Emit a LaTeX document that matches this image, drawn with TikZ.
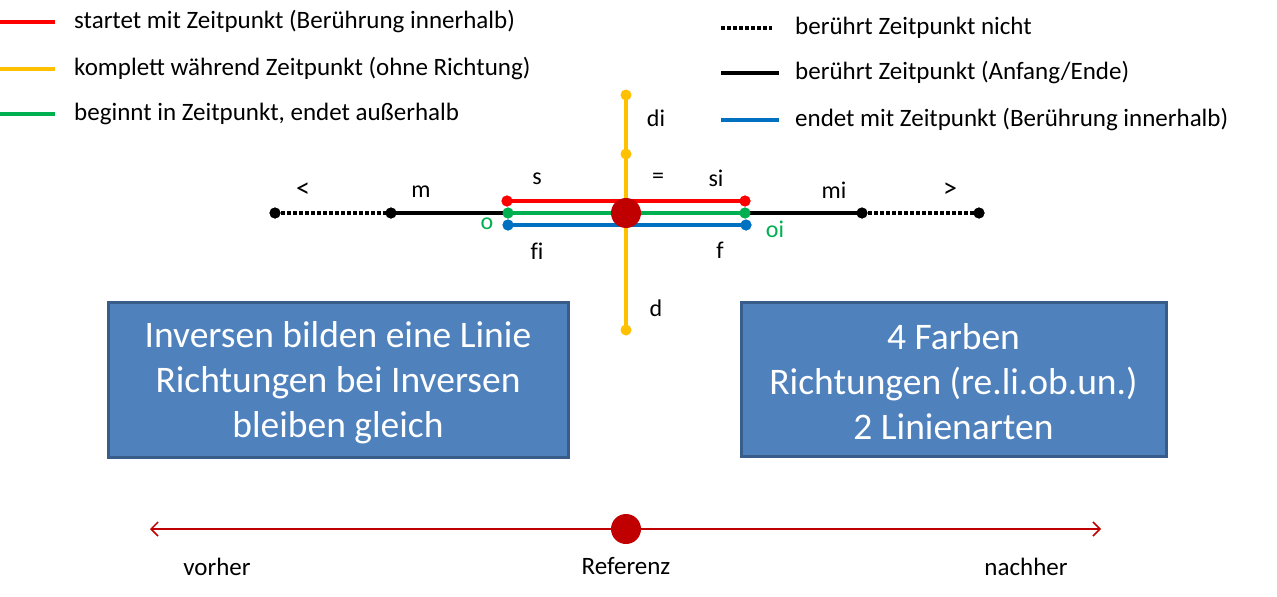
\documentclass[tikz,border=0pt]{standalone}
\usepackage{fontspec}
\setmainfont{Carlito}
\usetikzlibrary{arrows.meta}
\definecolor{cRed}{HTML}{FF0000}
\definecolor{cOrange}{HTML}{FFC000}
\definecolor{cGreen}{HTML}{00B050}
\definecolor{cBlue}{HTML}{0070C0}
\definecolor{cDark}{HTML}{C00000}
\definecolor{boxFill}{HTML}{4F81BD}
\definecolor{boxLine}{HTML}{385D8A}
\tikzset{
  ln/.style={line width=4pt},
  dotln/.style={line width=4pt, dash pattern=on 3.5pt off 2.5pt},
  dt/.style={circle, fill=#1, inner sep=0pt, minimum size=11pt},
  lbl/.style={font=\fontsize{24}{28}\selectfont, inner sep=0pt},
  legtxt/.style={font=\fontsize{25}{30}\selectfont, anchor=west, inner sep=0pt},
  infobox/.style={draw=boxLine, line width=3pt, fill=boxFill, text=white, font=\fontsize{37.5}{45}\selectfont, align=center, inner sep=0pt},
}
\begin{document}
\begin{tikzpicture}[x=1pt,y=-1pt]
\useasboundingbox (0,0) rectangle (1277,597);
% legend left
\coordinate (l1a) at (0,22); \coordinate (l1b) at (55,22);
\coordinate (l2a) at (0,69); \coordinate (l2b) at (55,69);
\coordinate (l3a) at (0,114); \coordinate (l3b) at (55,114);
\draw[ln,cRed] (l1a) -- (l1b);
\draw[ln,cOrange] (l2a) -- (l2b);
\draw[ln,cGreen] (l3a) -- (l3b);
\node[legtxt] (t1) at (74,22) {startet mit Zeitpunkt (Berührung innerhalb)};
\node[legtxt] (t2) at (74,69) {komplett während Zeitpunkt (ohne Richtung)};
\node[legtxt] (t3) at (74,114) {beginnt in Zeitpunkt, endet außerhalb};
% legend right
\coordinate (r1a) at (721,28); \coordinate (r1b) at (772,28);
\coordinate (r2a) at (721,73); \coordinate (r2b) at (779,73);
\coordinate (r3a) at (721,120); \coordinate (r3b) at (779,120);
\draw[dotln] (r1a) -- (r1b);
\draw[ln] (r2a) -- (r2b);
\draw[ln,cBlue] (r3a) -- (r3b);
\node[legtxt] (t4) at (795,28) {berührt Zeitpunkt nicht};
\node[legtxt] (t5) at (795,73) {berührt Zeitpunkt (Anfang/Ende)};
\node[legtxt] (t6) at (795,120) {endet mit Zeitpunkt (Berührung innerhalb)};
% main timeline points
\node[dt=black] (p1) at (275,213) {};
\node[dt=black] (p2) at (391,213) {};
\node[dt=black] (p5) at (862,213) {};
\node[dt=black] (p6) at (979,213) {};
% orange vertical
\node[dt=cOrange] (o1) at (626,95) {};
\node[dt=cOrange] (o2) at (626,154) {};
\node[dt=cOrange] (o3) at (626,330) {};
\draw[ln,cOrange] (o1.center) -- (o3.center);
% black/dotted
\node[dt=cGreen] (g1) at (508,213) {};
\node[dt=cGreen] (g2) at (745,213) {};
\draw[dotln] (p1.center) -- (p2.center);
\draw[ln] (p2.center) -- (g1.center);
\draw[ln] (g2.center) -- (p5.center);
\draw[dotln] (p5.center) -- (p6.center);
% red, green, blue
\node[dt=cRed] (r1) at (507,201) {};
\node[dt=cRed] (r2) at (745,201) {};
\node[dt=cBlue] (b1) at (508,225) {};
\node[dt=cBlue] (b2) at (746,225) {};
\draw[ln,cRed] (r1.center) -- (r2.center);
\draw[ln,cGreen] (g1.center) -- (g2.center);
\draw[ln,cBlue] (b1.center) -- (b2.center);
\node[dt=cRed] at (507,201) {};
\node[dt=cRed] at (745,201) {};
\node[dt=cGreen] at (508,213) {};
\node[dt=cGreen] at (745,213) {};
\node[dt=cBlue] at (508,225) {};
\node[dt=cBlue] at (746,225) {};
\node[dt=black] at (391,213) {};
\node[dt=black] at (862,213) {};
\node[dt=black] at (275,213) {};
\node[dt=black] at (979,213) {};
\node[circle, fill=cDark, inner sep=0pt, minimum width=28pt, minimum height=30pt] (ref) at (626,213) {};
% labels
\node[lbl, font=\fontsize{28}{30}\selectfont] (lt) at (303,190) {<};
\node[lbl] (lm) at (421,192) {m};
\node[lbl] (ls) at (537,179) {s};
\node[lbl] (leq) at (658,178) {=};
\node[lbl] (lsi) at (716,178) {si};
\node[lbl] (lmi) at (834,190) {mi};
\node[lbl, font=\fontsize{28}{30}\selectfont] (lgt) at (950,190) {>};
\node[lbl] (ldi) at (656,118) {di};
\node[lbl,text=cGreen] (lo) at (487,224) {o};
\node[lbl,text=cGreen] (loi) at (775,229) {oi};
\node[lbl] (lfi) at (537,251) {f\kern0pt i};
\node[lbl] (lf) at (720,250) {f};
\node[lbl] (ld) at (656,308) {d};
% boxes
\node[infobox, minimum width=460pt, minimum height=155pt, text depth=0pt] (bx1) at (338,379.5) {};
\node[text=white, font=\fontsize{37.5}{45}\selectfont, align=center, inner sep=0pt] (bx1t) at (338,383) {Inversen bilden eine Linie\\Richtungen bei Inversen\\bleiben gleich};
\node[infobox, minimum width=425pt, minimum height=154pt] (bx2) at (953.5,379) {};
\node[text=white, font=\fontsize{37.5}{45}\selectfont, align=center, inner sep=0pt] (bx2t) at (953.5,381.5) {4 Farben\\Richtungen (re.li.ob.un.)\\2 Linienarten};
% bottom
\coordinate (aL) at (150,529);
\coordinate (aR) at (1101,529);
\draw[cDark, line width=1.5pt, {Straight Barb[length=7pt,width=14pt]}-{Straight Barb[length=7pt,width=14pt]}] (aL) -- (aR);
\node[circle, fill=cDark, inner sep=0pt, minimum width=28pt, minimum height=30pt] (ref2) at (626,529) {};
\node[lbl, font=\fontsize{25}{30}\selectfont] (vorher) at (217,567) {vorher};
\node[lbl, font=\fontsize{25}{30}\selectfont] (referenz) at (626,566) {Referenz};
\node[lbl, font=\fontsize{25}{30}\selectfont] (nachher) at (1026,567) {nachher};
\end{tikzpicture}
\end{document}
